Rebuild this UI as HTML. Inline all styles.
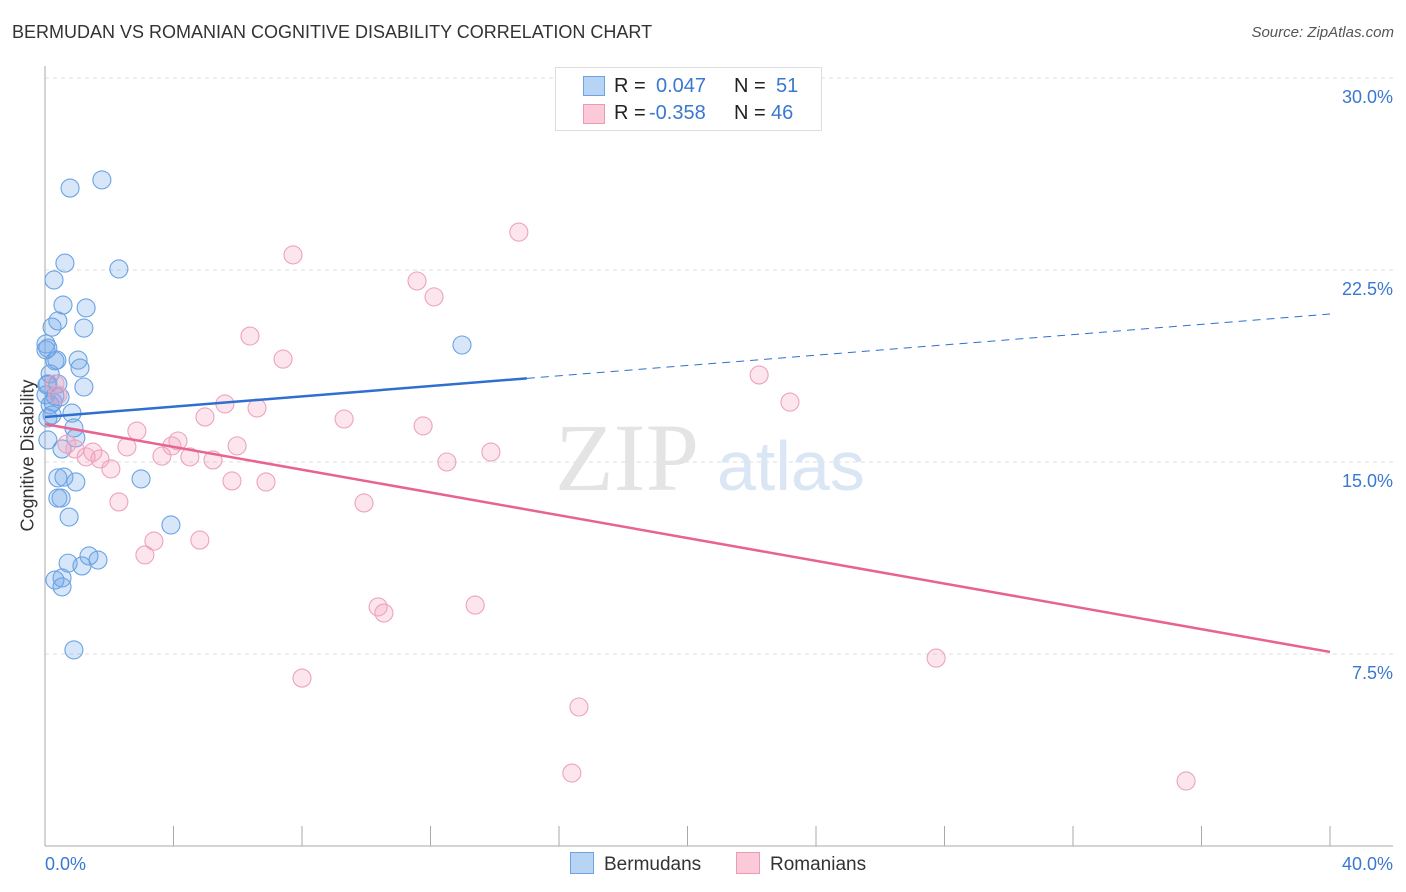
<!DOCTYPE html>
<html><head><meta charset="utf-8"><style>
body{margin:0;background:#fff;font-family:"Liberation Sans",sans-serif;}
#wrap{position:relative;width:1406px;height:892px;overflow:hidden}
.t{position:absolute;white-space:nowrap}
</style></head><body>
<div id="wrap">
<div class="t" style="left:12px;top:22px;font-size:18px;color:#333">BERMUDAN VS ROMANIAN COGNITIVE DISABILITY CORRELATION CHART</div>
<div class="t" style="right:12px;top:24px;font-size:15px;color:#555;font-style:italic">Source: ZipAtlas.com</div>
<svg id="svg" width="1406" height="892" style="position:absolute;left:0;top:0"></svg>
<div style="position:absolute;left:555px;top:67px;width:265px;height:62px;border:1px solid #ddd;background:#fff;font-size:20px">
 <div style="position:absolute;left:27px;top:8px;width:20px;height:18px;background:#b8d4f5;border:1px solid #6fa3e0"></div>
 <div class="t" style="left:58px;top:7px;color:#222">R =</div><div class="t" style="left:100px;top:7px;color:#3a78d0">0.047</div>
 <div class="t" style="left:178px;top:7px;color:#222">N =</div><div class="t" style="left:220px;top:7px;color:#3a78d0">51</div>
 <div style="position:absolute;left:27px;top:36px;width:20px;height:18px;background:#fbc9d8;border:1px solid #eb9ab4"></div>
 <div class="t" style="left:58px;top:34px;color:#222">R =</div><div class="t" style="left:93px;top:34px;color:#3a78d0">-0.358</div>
 <div class="t" style="left:178px;top:34px;color:#222">N =</div><div class="t" style="left:215px;top:34px;color:#3a78d0">46</div>
</div>
<div class="t" style="left:570px;top:852px;font-size:19px;color:#333"><span style="display:inline-block;width:22px;height:20px;background:#b8d4f5;border:1px solid #6fa3e0;vertical-align:-4px;margin-right:10px"></span>Bermudans</div>
<div class="t" style="left:736px;top:852px;font-size:19px;color:#333"><span style="display:inline-block;width:22px;height:20px;background:#fbc9d8;border:1px solid #eb9ab4;vertical-align:-4px;margin-right:10px"></span>Romanians</div>
<div class="t" style="left:-52px;top:445px;font-size:18px;color:#333;transform:rotate(-90deg);width:160px;text-align:center">Cognitive Disability</div>
</div>
<script>
const blueX=[0.78,1.77,0.62,2.30,0.28,0.56,1.28,0.40,0.22,1.21,0.03,0.09,1.03,0.31,1.09,0.16,0.40,0.09,1.21,0.31,0.47,0.25,0.84,0.09,0.90,0.96,0.53,2.99,0.40,0.59,0.96,0.40,0.50,0.75,3.92,0.72,1.37,1.65,1.15,0.31,0.53,0.53,0.90,12.98,0.16,0.03,0.09,0.22,0.37,0.06,0.03];
const blueY=[25.70,26.02,22.77,22.54,22.11,21.13,21.02,20.51,20.27,20.23,19.61,19.45,18.98,18.95,18.67,18.44,18.05,18.05,17.93,17.58,17.54,17.34,16.91,16.72,16.33,15.94,15.51,14.34,14.38,14.41,14.22,13.59,13.59,12.85,12.54,11.05,11.33,11.17,10.94,10.39,10.47,10.12,7.66,19.57,17.23,19.38,15.86,16.84,18.98,18.01,17.62];
const pinkX=[14.75,7.72,11.58,12.11,6.38,7.41,22.23,23.19,5.60,6.60,4.98,9.31,11.77,2.86,4.14,3.95,5.98,2.55,3.64,4.51,5.23,13.88,12.51,1.28,1.71,2.05,1.49,0.93,0.68,5.82,6.88,2.30,9.93,3.39,4.82,3.11,10.37,10.55,13.39,27.74,8.00,16.62,16.40,35.52,0.31,0.40];
const pinkY=[23.98,23.09,22.07,21.45,19.92,19.02,18.40,17.34,17.27,17.11,16.76,16.68,16.41,16.21,15.82,15.63,15.63,15.59,15.23,15.20,15.08,15.39,15.00,15.20,15.12,14.73,15.39,15.51,15.70,14.26,14.22,13.44,13.40,11.91,11.95,11.37,9.34,9.10,9.41,7.34,6.56,5.43,2.85,2.54,18.05,17.62];
const yTicks=[7.5,15.0,22.5,30.0];
const xTickLabels=["0.0%","40.0%"];
const blueTrend=[16.76,20.78];
const pinkTrend=[16.48,7.58];
const blueSolidEnd=15.0;

const NS="http://www.w3.org/2000/svg";
const svg=document.getElementById('svg');
const X=v=>45+v*32.125, Y=v=>846-v*25.6;
function mk(t,a){const e=document.createElementNS(NS,t);for(const k in a)e.setAttribute(k,a[k]);svg.appendChild(e);return e;}
yTicks.forEach(v=>{
 const g=mk('line',{x1:45,x2:1393,y1:Y(v),y2:Y(v),stroke:'#ddd','stroke-dasharray':'4,4'});
 
 
 const t=mk('text',{x:1393,y:Y(v)+25,'text-anchor':'end','font-size':18,fill:'#3a78d0','font-family':'Liberation Sans, sans-serif'});
 t.textContent=v.toFixed(1)+'%';
 
 
});
let a=mk('line',{x1:45,x2:45,y1:66,y2:846,stroke:'#aaa'});


a=mk('line',{x1:45,x2:1393,y1:846,y2:846,stroke:'#aaa'});


for(let i=0;i<=10;i++){const tk=mk('line',{x1:X(i*4),x2:X(i*4),y1:826,y2:846,stroke:'#aaa'});
 
 }
[[X(0),'start',0],[1393,'end',1]].forEach(([x,an,i])=>{const t=mk('text',{x:x,y:870,'text-anchor':an,'font-size':18,fill:'#3a78d0','font-family':'Liberation Sans, sans-serif'});t.textContent=xTickLabels[i];
 
 });
let w=mk('text',{x:555,y:490,'font-size':96,fill:'#e4e4e4','font-family':'Liberation Serif, serif'});w.textContent='ZIP';


w=mk('text',{x:717,y:490,'font-size':70,fill:'#dbe6f5','font-family':'Liberation Sans, sans-serif'});w.textContent='atlas';


blueX.forEach((x,i)=>{const c=mk('circle',{cx:X(x),cy:Y(blueY[i]),r:9,fill:'rgba(110,165,235,0.28)',stroke:'#6aa3e3','stroke-width':1.1});
 
 });
pinkX.forEach((x,i)=>{const c=mk('circle',{cx:X(x),cy:Y(pinkY[i]),r:9,fill:'rgba(245,160,190,0.28)',stroke:'#eda3bb','stroke-width':1.1});
 
 });
const bAt=v=>blueTrend[0]+(blueTrend[1]-blueTrend[0])*v/40;
let l=mk('line',{x1:X(0),y1:Y(bAt(0)),x2:X(blueSolidEnd),y2:Y(bAt(blueSolidEnd)),stroke:'#2f6fd0','stroke-width':2.5});


l=mk('line',{x1:X(blueSolidEnd),y1:Y(bAt(blueSolidEnd)),x2:X(40),y2:Y(bAt(40)),stroke:'#2f6fd0','stroke-width':1,'stroke-dasharray':'8,6'});


l=mk('line',{x1:X(0),y1:Y(pinkTrend[0]),x2:X(40),y2:Y(pinkTrend[1]),stroke:'#e8638f','stroke-width':2.5});


</script>
</body></html>
